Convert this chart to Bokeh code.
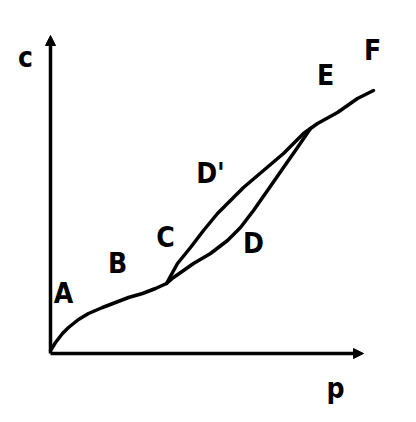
from bokeh.plotting import figure
from bokeh.models import Range1d, Arrow, NormalHead, ColumnDataSource
from bokeh.core.properties import value
from bokeh.embed import file_html
from bokeh.resources import INLINE

# Main branch O -> A -> B -> C
main_x = [0, 5, 12, 18, 28, 38, 52, 65, 78, 92, 105, 116]
main_y = [3, 11, 20, 26, 34, 40, 46, 51, 56, 60, 65, 70]
# Upper branch C -> D' -> E
upper_x = [116, 127, 140, 153, 167, 180, 193, 213, 233, 253, 260]
upper_y = [70, 90, 106, 123, 140, 153, 166, 183, 200, 220, 225]
# Lower branch C -> D -> E
lower_x = [116, 123, 143, 160, 177, 190, 203, 217, 233, 247, 260]
lower_y = [70, 76, 90, 100, 113, 126, 143, 163, 186, 206, 225]
# E -> F
end_x = [260, 267, 287, 307, 323]
end_y = [225, 230, 241, 255, 263]

labels = ["c", "A", "B", "C", "D'", "D", "E", "F", "p"]
label_x = [-25, 13, 67, 115, 160, 203, 275, 322, 285]
label_y = [296, 60, 90, 116, 180, 110, 278, 303, -35]

axis_x_end = 313
axis_y_end = 318

p = figure(width=400, height=406, output_backend="svg", toolbar_location=None,
           x_range=Range1d(-50, 350), y_range=Range1d(-53, 353),
           min_border=0)
p.axis.visible = False
p.grid.visible = False
p.outline_line_color = None
p.background_fill_color = "white"
p.border_fill_color = "white"

for xs, ys in [(main_x, main_y), (upper_x, upper_y), (lower_x, lower_y), (end_x, end_y)]:
    p.line(xs, ys, line_color="black", line_width=3.5, line_join="round", line_cap="round")

p.add_layout(Arrow(end=NormalHead(size=10, fill_color="black", line_color="black"),
                   x_start=0, y_start=0, x_end=axis_x_end, y_end=0,
                   line_color="black", line_width=3.5))
p.add_layout(Arrow(end=NormalHead(size=10, fill_color="black", line_color="black"),
                   x_start=0, y_start=0, x_end=0, y_end=axis_y_end,
                   line_color="black", line_width=3.5))

src = ColumnDataSource(dict(x=label_x, y=label_y, t=labels))
p.text(x="x", y="y", text="t", source=src, text_font=value("DejaVu Sans Condensed"),
       text_font_style="bold", text_font_size="28px", text_align="center",
       text_baseline="middle", text_color="black")

open("out.html", "w").write(file_html(p, INLINE))
